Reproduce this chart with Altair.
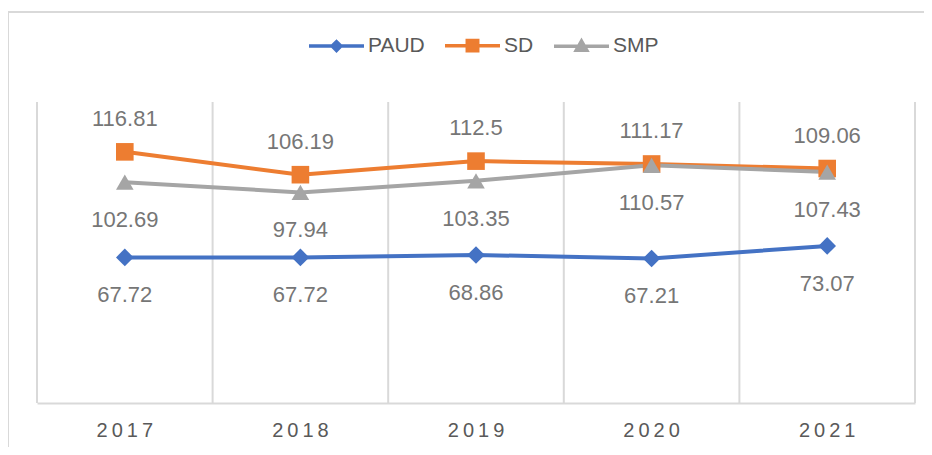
import altair as alt
import pandas as pd

# ---- data ----
years = ["2017", "2018", "2019", "2020", "2021"]
series_names = ["PAUD", "SD", "SMP"]
paud = [67.72, 67.72, 68.86, 67.21, 73.07]
sd = [116.81, 106.19, 112.5, 111.17, 109.06]
smp = [102.69, 97.94, 103.35, 110.57, 107.43]
labels_above = ["SD"]

# ---- styles ----
colors = ["#4472C4", "#ED7D31", "#A5A5A5"]
marker_shapes = ["diamond", "square", "triangle-up"]
# legend symbols: a line with a marker drawn by nested strokes
legend_paths = [
    "M-1,0H1M0,-0.16L0.16,0L0,0.16L-0.16,0ZM0,-0.06L0.06,0L0,0.06L-0.06,0Z",
    "M-1,0H1M-0.19,-0.19H0.19V0.19H-0.19ZM-0.09,-0.09H0.09V0.09H-0.09Z",
    "M-1,0H1M0,-0.19L0.19,0.14H-0.19ZM0,-0.07L0.08,0.07H-0.08Z",
]
FONT = "Liberation Sans"
W, H = 878, 301

marker_of = dict(zip(series_names, marker_shapes))
rows = []
for name, vals in zip(series_names, [paud, sd, smp]):
    for y, v in zip(years, vals):
        rows.append({"year": y, "series": name, "value": v, "label": f"{v:g}",
                     "marker": marker_of[name]})
df = pd.DataFrame(rows)
df_years = pd.DataFrame({"year": years})

xscale = alt.Scale(type="band", domain=years, paddingInner=0, paddingOuter=0)
xaxis = alt.Axis(
    title=None, labelAngle=0, ticks=False, grid=False,
    domainColor="#D9D9D9", domainWidth=2,
    labelFontSize=20, labelFont=FONT, labelColor="#595959", labelPadding=17,
    labelExpr="join(split(datum.label, ''), '\u2009')",
)
yscale = alt.Scale(domain=[0, 140], nice=False, zero=True)


def X(**kw):
    return alt.X("year:O", scale=xscale, axis=xaxis, **kw)


color_scale = alt.Scale(domain=series_names, range=colors)

shape_expr = (
    "[" + ",".join(f"'{p}'" for p in legend_paths) + "]"
    + "[indexof([" + ",".join(f"'{s}'" for s in series_names) + "], datum.value)]"
)

legend = alt.Legend(
    orient="none", legendX=270, legendY=-86, direction="horizontal", title=None,
    symbolSize=3025, labelFontSize=21, labelFont=FONT, labelColor="#595959",
    labelOffset=2, columnPadding=13, padding=0, symbolStrokeWidth=3.5,
    symbolType=alt.ExprRef(shape_expr),
    symbolStrokeColor=alt.ExprRef("scale('color', datum.value)"),
    symbolFillColor=alt.ExprRef("scale('color', datum.value)"),
    symbolOpacity=1,
)

grid = alt.Chart(df_years).mark_rule(color="#D9D9D9", strokeWidth=2).encode(
    x=X(bandPosition=0)
)
edge = (
    alt.Chart(df_years)
    .transform_filter(alt.datum.year == years[-1])
    .mark_rule(color="#D9D9D9", strokeWidth=2)
    .encode(x=X(bandPosition=1))
)

border_df = pd.DataFrame({"a": [0]})
border_left = alt.Chart(border_df).mark_rule(color="#D9D9D9", strokeWidth=2).encode(
    x=alt.value(-29), y=alt.value(-90), y2=alt.value(H + 80)
)
border_top = alt.Chart(border_df).mark_rule(color="#D9D9D9", strokeWidth=2).encode(
    x=alt.value(-29), x2=alt.value(W + 60), y=alt.value(-90)
)

lines = alt.Chart(df).mark_line(strokeWidth=4).encode(
    x=X(),
    y=alt.Y("value:Q", scale=yscale, axis=None),
    color=alt.Color("series:N", scale=color_scale, legend=legend),
)

points = alt.Chart(df).mark_point(filled=True, opacity=1, size=310).encode(
    x=X(),
    y=alt.Y("value:Q", scale=yscale, axis=None),
    color=alt.Color("series:N", scale=color_scale, legend=None),
    shape=alt.Shape("marker:N", scale=None),
)

text_base = alt.Chart(df)
above = text_base.transform_filter(
    alt.FieldOneOfPredicate(field="series", oneOf=labels_above)
).mark_text(fontSize=22, font=FONT, color="#767676", baseline="middle", dy=-33).encode(
    x=X(), y=alt.Y("value:Q", scale=yscale, axis=None), text="label:N"
)
below = text_base.transform_filter(
    ~alt.FieldOneOfPredicate(field="series", oneOf=labels_above)
).mark_text(fontSize=22, font=FONT, color="#767676", baseline="middle", dy=38).encode(
    x=X(), y=alt.Y("value:Q", scale=yscale, axis=None), text="label:N"
)

chart = (
    alt.layer(border_left, border_top, grid, edge, lines, points, above, below)
    .properties(
        width=W, height=H, autosize="none",
        padding={"left": 29, "top": 94, "right": 9, "bottom": 44},
        background="white",
    )
    .configure_view(stroke=None)
)

chart.save("out.html", embed_options={"renderer": "svg", "actions": False})
